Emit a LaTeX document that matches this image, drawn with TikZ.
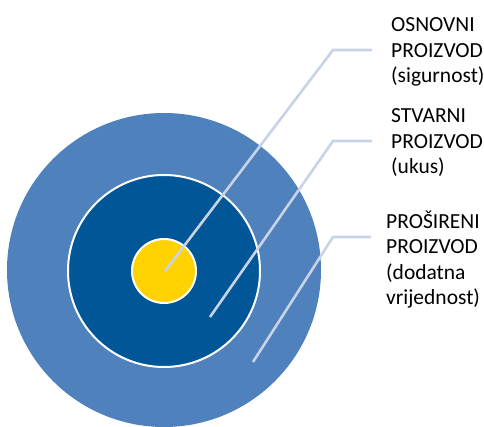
\documentclass[tikz,border=0pt]{standalone}
\usepackage{fontspec}
\setmainfont{Carlito}
\usepackage{tikz}
\usetikzlibrary{calc}
\definecolor{OuterBlue}{RGB}{79,129,189}
\definecolor{InnerBlue}{RGB}{0,86,150}
\definecolor{CoreYellow}{RGB}{255,210,0}
\definecolor{LeaderGray}{RGB}{200,211,229}

\begin{document}
\begin{tikzpicture}[x=1pt, y=-1pt,
    leader/.style={LeaderGray, line width=2.6pt, shorten >=19pt},
    ringtext/.style={anchor=base west, align=left, inner sep=0pt,
        font=\fontsize{21.5}{25.5}\selectfont}]
    \useasboundingbox (0,0) rectangle (484,427);
    \clip (0,0) rectangle (484,427);
    \fill[OuterBlue] (164,270) circle (157);
    \filldraw[InnerBlue, draw=white, line width=2pt] (164,271) circle (96);
    \filldraw[CoreYellow, draw=white, line width=2pt] (164,271) circle (32);
    \node[ringtext] (osnovni) at (391,83) {OSNOVNI\\PROIZVOD\\(sigurnost)};
    \node[ringtext] (stvarni) at (391,174) {STVARNI\\PROIZVOD\\(ukus)};
    \node[ringtext] (prosireni) at (386,305) {PROŠIRENI\\PROIZVOD\\(dodatna\\vrijednost)};
    \coordinate (s1) at (165,271);
    \coordinate (k1) at (333,50);
    \coordinate (s2) at (210,317);
    \coordinate (k2) at (333,141);
    \coordinate (s3) at (253,362);
    \coordinate (k3) at (333,237);
    \draw[leader] (s1) -- (k1) -- (k1 -| osnovni.west);
    \draw[leader] (s2) -- (k2) -- (k2 -| stvarni.west);
    \draw[leader, shorten >=15pt] (s3) -- (k3) -- (k3 -| prosireni.west);
\end{tikzpicture}
\end{document}
